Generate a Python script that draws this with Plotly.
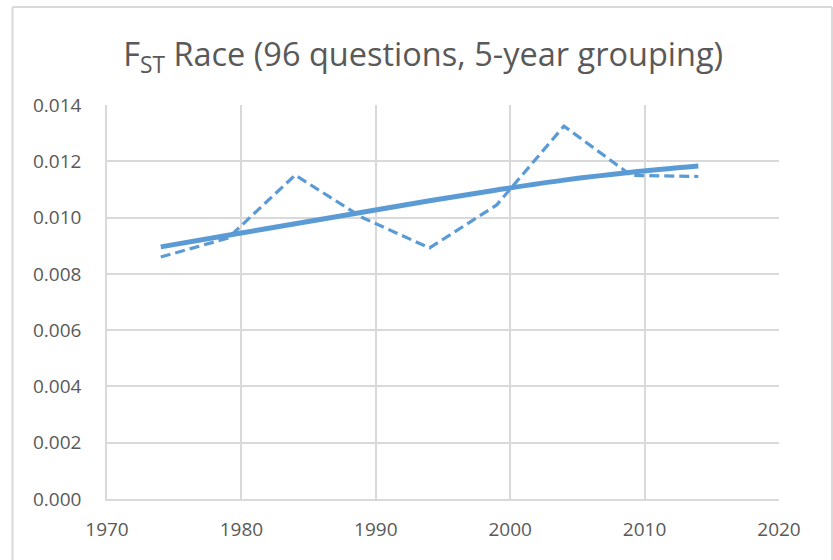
import plotly.graph_objects as go

years = [1974, 1979, 1984, 1989, 1994, 1999, 2004, 2009, 2014]
fst_race = [0.00860, 0.00927, 0.01151, 0.01000, 0.00892, 0.01045, 0.01325, 0.01150, 0.01146]
trend = [0.00896, 0.00937, 0.00978, 0.01019, 0.01060, 0.01098, 0.01133, 0.01161, 0.01183]

x_ticks = [1970, 1980, 1990, 2000, 2010, 2020]
y_ticks = [0.000, 0.002, 0.004, 0.006, 0.008, 0.010, 0.012, 0.014]

BLUE = "#5B9BD5"
GRID = "#D9D9D9"
TXT = "#595959"
FONT = "Open Sans"

fig = go.Figure()
fig.add_trace(go.Scatter(x=years, y=fst_race, mode="lines",
                         line=dict(color=BLUE, width=3.2, dash="10px,5px"),
                         showlegend=False, hoverinfo="x+y"))
fig.add_trace(go.Scatter(x=years, y=trend, mode="lines",
                         line=dict(color=BLUE, width=5, shape="spline"),
                         showlegend=False, hoverinfo="x+y"))

fig.update_layout(
    width=833, height=560,
    margin=dict(l=107, r=54, t=105, b=61),
    paper_bgcolor="white", plot_bgcolor="white",
    title=dict(text="F<sub>ST</sub> Race (96 questions, 5-year grouping)",
               x=0.508, xanchor="center", y=0.903, yanchor="middle",
               font=dict(family=FONT, size=32.5, color=TXT)),
    font=dict(family=FONT, color=TXT),
    xaxis=dict(range=[1970, 2020], tickvals=x_ticks, ticktext=[str(v) for v in x_ticks],
               showgrid=True, gridcolor=GRID, gridwidth=1.5,
               showline=True, linecolor=GRID, linewidth=1.5, zeroline=False,
               ticks="", ticklabelstandoff=12,
               tickfont=dict(family=FONT, size=19, color=TXT)),
    yaxis=dict(range=[0, 0.014], tickvals=y_ticks, ticktext=[f"{v:.3f}" for v in y_ticks],
               showgrid=True, gridcolor=GRID, gridwidth=1.5,
               showline=True, linecolor=GRID, linewidth=1.5, zeroline=False,
               ticks="", ticklabelstandoff=20,
               tickfont=dict(family=FONT, size=19, color=TXT)),
    shapes=[
        dict(type="line", xref="paper", yref="paper",
             x0=(12.5 - 107) / 672, x1=(12.5 - 107) / 672,
             y0=-0.3, y1=(499 - 7) / 394,
             line=dict(color=GRID, width=2)),
        dict(type="line", xref="paper", yref="paper",
             x0=(12.5 - 107) / 672, x1=(832 - 107) / 672,
             y0=(499 - 7) / 394, y1=(499 - 7) / 394,
             line=dict(color=GRID, width=2)),
        dict(type="line", xref="paper", yref="paper",
             x0=(832 - 107) / 672, x1=(832 - 107) / 672,
             y0=-0.3, y1=(499 - 7) / 394,
             line=dict(color=GRID, width=2)),
    ],
)

fig.write_html("out.html", config={"displayModeBar": False},
               post_script="document.body.style.margin='0';")
